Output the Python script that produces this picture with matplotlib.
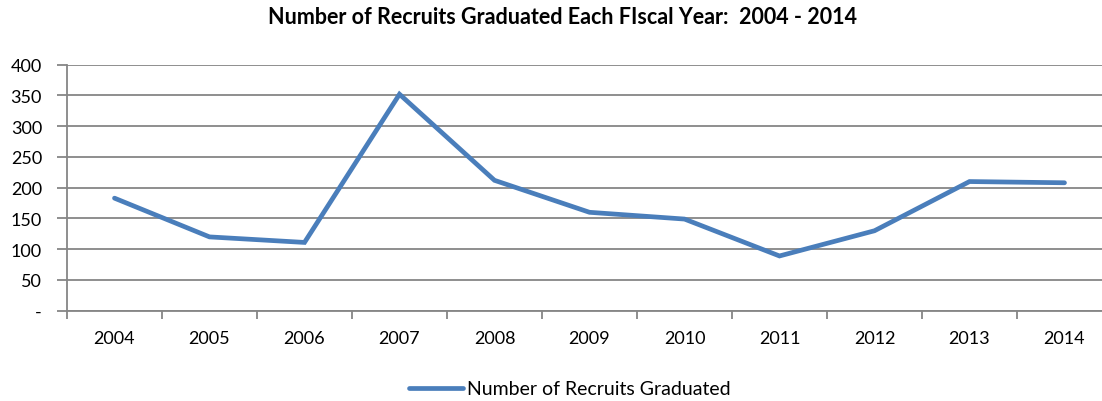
import matplotlib
matplotlib.use("Agg")
import matplotlib.pyplot as plt
from matplotlib.ticker import FixedLocator, FuncFormatter

years = ["2004", "2005", "2006", "2007", "2008", "2009", "2010",
         "2011", "2012", "2013", "2014"]
recruits = [183, 120, 111, 352, 212, 160, 149, 89, 130, 210, 208]
y_ticks = [0, 50, 100, 150, 200, 250, 300, 350, 400]

title = "Number of Recruits Graduated Each FIscal Year:  2004 - 2014"
series_name = "Number of Recruits Graduated"

plt.rcParams["font.family"] = ["Lato", "DejaVu Sans"]

W, H = 1102, 402
fig = plt.figure(figsize=(W / 100, H / 100), dpi=100)
left, right, top, bottom = 67, 1112, 65.7, 311.7
ax = fig.add_axes([left / W, 1 - bottom / H, (right - left) / W, (bottom - top) / H])

grid_color = "#868686"
line_color = "#4A7EBB"

x = list(range(len(years)))
ax.plot(x, recruits, color=line_color, lw=3.4, solid_joinstyle="miter",
        solid_capstyle="round", label=series_name, zorder=3)

ax.set_xlim(-0.5, len(years) - 0.5)
ax.set_ylim(0, 400)

ax.yaxis.set_major_locator(FixedLocator(y_ticks))
ax.yaxis.set_major_formatter(FuncFormatter(lambda v, p: "-" if v == 0 else f"{int(v)}"))
ax.grid(axis="y", color=grid_color, lw=1.3)
ax.set_axisbelow(True)

ax.set_xticks(x)
ax.set_xticklabels(years)
ax.set_xticks([i - 0.5 for i in range(len(years) + 1)], minor=True)
ax.tick_params(axis="x", which="major", length=0, pad=14, labelsize=13)
ax.tick_params(axis="x", which="minor", length=6, width=1.3, color=grid_color, direction="out")
ax.tick_params(axis="y", length=7, width=1.3, color=grid_color, labelsize=13, pad=11)

for side in ("top", "right"):
    ax.spines[side].set_visible(False)
for side in ("left", "bottom"):
    ax.spines[side].set_color(grid_color)
    ax.spines[side].set_linewidth(1.3)

fig.text(563 / W, 1 - 18 / H, title, ha="center", va="center",
         fontsize=15.5, fontweight="bold")

leg = fig.legend(handles=ax.get_lines(), loc="center", bbox_to_anchor=(570 / W, 1 - 390 / H),
                 frameon=False, fontsize=14, handlelength=2.8, handletextpad=0.2)

fig.savefig("out.png", dpi=100, facecolor="white")
